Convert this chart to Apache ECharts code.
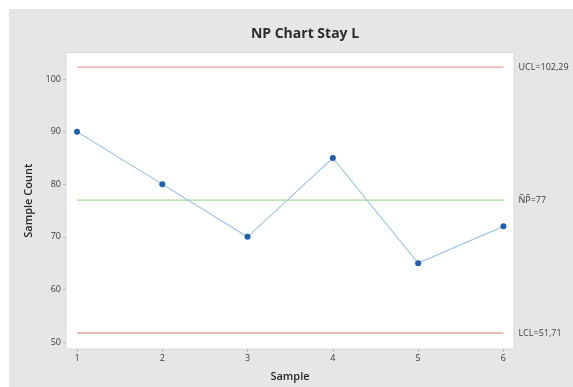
<!DOCTYPE html>
<html>
<head>
<meta charset="utf-8">
<script src="https://cdn.jsdelivr.net/npm/echarts@6/dist/echarts.min.js"></script>
<style>
html,body{margin:0;padding:0;background:#fff;}
#c{width:573px;height:387px;}
</style>
</head>
<body>
<div id="c"></div>
<script>
const samples = [1, 2, 3, 4, 5, 6];
const counts = [90, 80, 70, 85, 65, 72];
const ucl = 102.29;
const center = 77;
const lcl = 51.71;
const xTicks = [1, 2, 3, 4, 5, 6];
const yTicks = [50, 60, 70, 80, 90, 100];
const uclLabel = 'UCL=102,29';
const centerLabel = 'N\u0305P\u0305=77';
const lclLabel = 'LCL=51,71';

const font = '"Open Sans", "Noto Sans", sans-serif';
const chart = echarts.init(document.getElementById('c'), null, {renderer: 'canvas'});

function limitSeries(val, color, text) {
  return {
    type: 'line',
    data: [[samples[0], val], [samples[samples.length - 1], val]],
    symbol: 'none',
    silent: true,
    lineStyle: {color: color, width: 1.3},
    z: 1,
    label: {show: false},
    endLabel: {
      show: true,
      formatter: text,
      distance: 15,
      color: '#404040',
      fontSize: 9,
      fontFamily: font
    }
  };
}

chart.setOption({
  animation: false,
  backgroundColor: '#ffffff',
  graphic: [{
    type: 'rect',
    shape: {x: 9, y: 9, width: 564, height: 378},
    style: {fill: '#e6e6e6'},
    z: -10
  }],
  title: {
    text: 'NP Chart Stay L',
    left: 300,
    top: 22,
    textAlign: 'center',
    textStyle: {fontSize: 14, fontWeight: 'bold', color: '#2b2b2b', fontFamily: font}
  },
  grid: {
    left: 66, top: 52.5, right: 59, bottom: 37.7,
    show: true, backgroundColor: '#ffffff', borderColor: '#d9d9d9', borderWidth: 1
  },
  xAxis: {
    type: 'value',
    min: 0.871, max: 6.124,
    name: 'Sample',
    nameLocation: 'middle',
    nameGap: 22,
    nameTextStyle: {fontSize: 11, fontWeight: 600, color: '#262626', fontFamily: font},
    axisLine: {show: false},
    splitLine: {show: false},
    axisTick: {show: true, customValues: xTicks, length: 3, lineStyle: {color: '#bbbbbb'}},
    axisLabel: {customValues: xTicks, fontSize: 9, color: '#3a3a3a', fontFamily: font, margin: 5}
  },
  yAxis: {
    type: 'value',
    min: 48.67, max: 105.07,
    name: 'Sample Count',
    nameLocation: 'middle',
    nameGap: 29,
    nameTextStyle: {fontSize: 11, fontWeight: 600, color: '#262626', fontFamily: font},
    axisLine: {show: false},
    splitLine: {show: false},
    axisTick: {show: true, customValues: yTicks, length: 3, lineStyle: {color: '#bbbbbb'}},
    axisLabel: {customValues: yTicks, fontSize: 9, color: '#3a3a3a', fontFamily: font, margin: 5}
  },
  series: [
    limitSeries(ucl, '#e8a3a3', uclLabel),
    limitSeries(center, '#a8d5a0', centerLabel),
    limitSeries(lcl, '#e8a3a3', lclLabel),
    {
      type: 'line',
      data: samples.map((s, i) => [s, counts[i]]),
      symbol: 'circle',
      symbolSize: 6,
      itemStyle: {color: '#1f5fa8'},
      lineStyle: {color: '#a9c8e6', width: 1.2},
      z: 3
    }
  ]
});
</script>
</body>
</html>
